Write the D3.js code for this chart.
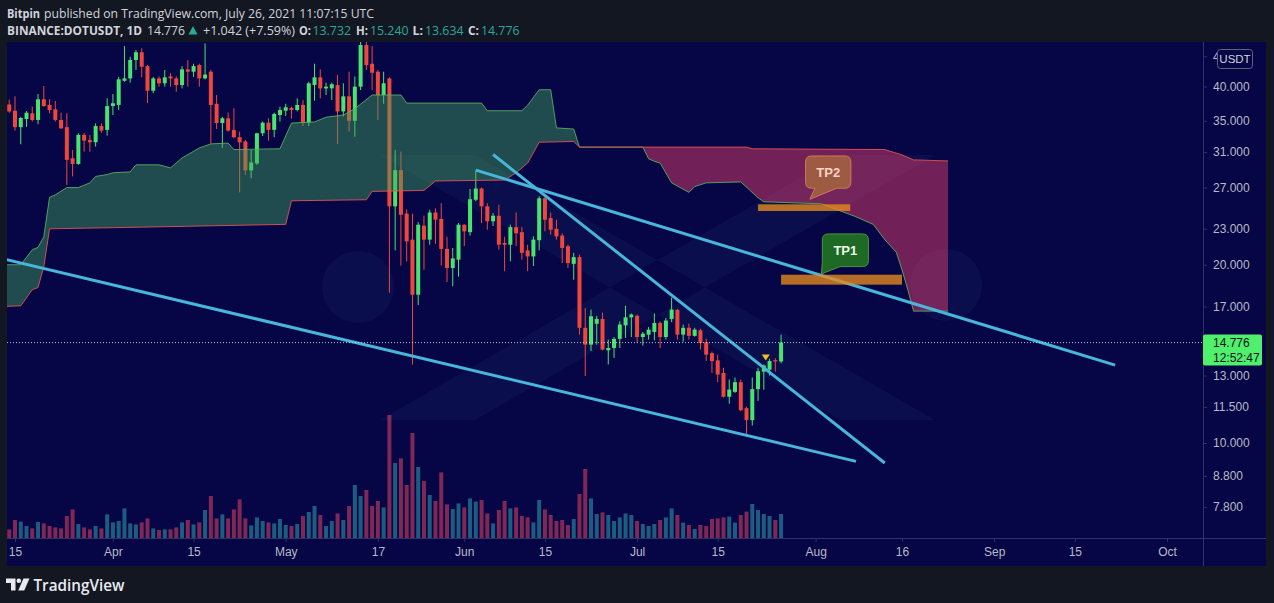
<!DOCTYPE html>
<html><head><meta charset="utf-8">
<script src="https://cdn.jsdelivr.net/npm/d3@7"></script>
<style>
html,body{margin:0;padding:0;background:#131722;}
svg{display:block;}
</style></head><body>
<svg id="c" width="1274" height="603"></svg>
<script>
// ---------------- DATA ----------------
const firstDay = "2021-03-14"; // daily candles, Mar 14 .. Jul 26 2021
const opens = [37.3,36.4,34.15,35.25,36.04,35.12,38.06,37.23,36.6,35.12,34.15,30.26,29.6,33.14,32.5,32.2,34.3,33.79,
37.07,37.23,40.9,41.28,44.34,45.7,43.3,39.35,41.28,40.5,41.6,41.28,40.23,42.76,42.37,43.48,41.28,42.37,37.4,34.7,35.35,33.79,32.84,32.3,28.87,29.66,33.35,34.75,33.79,35.81,
36.41,36.8,36.51,37.23,34.75,40.23,41.45,39.7,39.72,40.23,36.3,38.5,35.0,39.97,47.0,43.7,42.37,38.7,41.28,25.1,28.9,24.4,22.05,17.8,23.28,22.05,24.5,23.9,21.27,19.75,20.4,
23.37,22.7,25.75,26.9,25.1,23.68,24.2,21.76,21.62,23.15,22.7,21.15,20.66,22.0,25.9,23.98,23.0,22.4,21.49,20.07,20.6,15.65,14.66,15.9,16.2,14.34,14.47,14.99,15.8,16.3,
16.4,15.1,15.24,15.4,15.95,15.1,16.2,16.78,15.24,15.65,15.17,15.5,14.8,14.18,13.79,13.13,11.97,12.2,12.67,11.45,10.93,12.33,13.2,13.3,13.8,13.732];
const highs = [38.0,38.5,35.55,36.37,36.98,38.85,40.08,38.06,37.8,36.13,36.04,31.26,33.35,33.4,33.14,34.66,34.66,38.2,
38.85,41.53,46.8,44.9,46.09,46.4,43.48,41.53,41.6,42.65,42.1,41.6,43.3,44.3,43.7,43.7,47.3,42.65,38.7,35.55,36.13,36.75,33.56,32.5,31.26,33.4,34.9,35.35,36.13,36.98,
37.4,36.98,38.2,37.96,40.75,43.7,42.76,40.6,40.6,41.83,40.5,42.37,41.6,48.5,49.5,46.8,42.65,42.37,41.45,31.26,31.05,24.8,24.4,23.6,24.2,24.77,24.9,25.4,22.3,21.35,23.53,
23.4,26.85,28.85,27.0,25.4,24.45,25.25,22.3,23.37,24.5,23.15,21.62,22.33,26.1,26.1,24.5,23.83,22.6,21.62,20.95,20.8,16.9,16.8,16.4,16.6,14.95,15.1,16.05,17.05,16.55,
16.48,15.4,15.7,16.55,16.05,16.25,17.6,16.85,15.85,15.9,15.65,15.6,15.0,14.27,14.1,13.4,12.8,12.9,12.8,11.52,12.9,13.4,13.57,13.88,13.9,15.24];
const lows = [36.1,33.7,31.95,34.2,34.9,34.54,36.98,36.04,34.9,33.9,27.29,28.2,29.5,31.05,31.05,31.66,33.4,33.05,
35.81,36.51,40.75,40.6,42.65,41.45,37.5,38.96,39.97,39.97,39.97,39.2,39.7,39.97,41.53,39.97,41.13,32.05,33.9,31.5,33.56,32.7,26.5,28.37,28.0,29.49,33.0,32.4,32.84,34.9,
35.67,35.3,36.3,34.3,34.3,37.85,38.2,38.7,37.96,32.0,35.6,33.56,32.9,39.46,42.65,39.46,35.12,37.4,17.94,21.15,19.93,20.27,13.57,17.1,19.62,21.62,21.7,19.93,18.7,18.4,19.1,
21.5,22.4,25.6,23.5,22.92,23.25,21.21,19.5,20.27,21.5,20.4,19.5,19.9,21.15,22.77,22.48,22.05,20.13,19.75,18.87,15.24,12.97,14.3,14.66,14.34,13.57,13.92,14.47,15.05,15.1,
14.77,14.6,14.95,14.9,14.47,14.95,16.0,14.95,14.82,14.95,15.12,14.38,13.75,13.13,12.67,11.93,11.65,12.15,11.32,10.3,10.7,11.78,12.3,13.0,13.2,13.634];
const closes = [36.3,34.15,35.4,36.13,35.12,38.06,37.07,36.51,35.12,34.0,30.07,29.6,33.14,32.4,32.2,34.3,33.7,37.07,
37.48,41.13,41.28,44.34,45.7,43.2,39.35,41.28,40.5,41.45,41.28,40.23,42.76,42.37,43.3,41.28,41.9,37.23,34.7,35.35,33.7,32.84,32.2,28.87,29.76,33.35,34.75,33.79,35.95,36.51,
36.9,36.51,37.23,34.75,40.5,41.45,39.7,39.97,40.35,36.3,38.5,35.0,39.97,47.0,43.48,42.2,38.7,40.5,25.1,28.9,24.29,21.9,17.8,23.37,22.05,24.5,23.83,21.27,19.75,20.5,23.37,
22.77,25.8,26.9,25.1,23.68,24.2,21.62,21.62,23.15,22.6,20.95,20.66,22.05,25.9,23.83,22.92,22.33,21.35,20.13,20.6,15.65,14.66,16.37,16.2,14.38,14.47,14.99,15.85,16.3,16.48,
15.1,15.3,15.54,15.95,15.1,16.1,16.8,15.24,15.65,15.17,15.54,14.75,14.1,13.75,13.05,11.97,12.31,12.67,11.36,10.93,12.33,13.22,13.52,13.75,13.734,14.776];
const volumes = [4.8,9.5,8.7,6.5,5.3,8.5,7.8,6.5,5.8,5.3,11.5,14.8,7.5,5.8,4.8,6.5,5.3,12.3,
8.3,9,15.3,7.8,7.3,8.3,10.3,5.3,4.5,4.8,4.8,5.8,8.3,9.5,7.3,8.3,14.5,21.5,10.3,12.3,10.3,14.8,19.8,10.3,6.8,10.8,9,8.3,7.8,10,
7,6.5,7.5,11.5,13.5,16.5,12,6.5,9,12.8,9.5,16.5,27,21.5,24.5,16.5,19,15.8,62,38,40.3,27,53,36,29,22,19,33.3,17.3,15,17.8,
15.8,20.3,18.7,19.5,12.8,7.8,14.5,19,15.3,15.8,11.5,10.8,8.3,19.5,14.8,12,9,9.5,7,10,22.5,35,20.3,12.5,13.3,12,9,10.8,12.8,12,
9,7.5,6.5,7.5,9.5,10.8,15.3,12,8.2,7,5,7,6.5,10,10.3,10.8,11.2,8.2,12,13.7,17.5,14.5,12.5,11.5,9.5,12.5];

// Ichimoku cloud spans (date, price)
const spanA = [["2021-03-13",20.0],["2021-03-16",20.0],["2021-03-18",21.2],["2021-03-19",21.4],["2021-03-20",22.3],["2021-03-21",26.0],
["2021-03-22",26.25],["2021-03-24",27.0],["2021-03-26",27.0],["2021-03-28",27.5],["2021-03-29",28.2],["2021-03-31",28.4],["2021-04-01",28.6],
["2021-04-04",28.7],["2021-04-05",29.5],["2021-04-09",29.5],["2021-04-11",29.15],["2021-04-13",30.3],["2021-04-16",31.5],["2021-04-18",32.0],
["2021-04-21",32.1],["2021-04-22",31.3],["2021-04-30",31.4],["2021-05-02",34.7],["2021-05-06",34.85],["2021-05-08",35.5],["2021-05-11",35.8],
["2021-05-13",36.7],["2021-05-16",38.7],["2021-05-21",38.7],["2021-05-22",37.5],["2021-06-04",37.5],["2021-06-05",36.4],["2021-06-11",36.4],
["2021-06-12",37.2],["2021-06-14",39.5],["2021-06-16",39.5],["2021-06-17",34.05],["2021-06-20",33.9],["2021-06-21",31.6],["2021-07-02",31.6],
["2021-07-03",30.2],["2021-07-04",29.9],["2021-07-05",29.7],["2021-07-07",27.5],["2021-07-10",26.5],["2021-07-11",27.1],["2021-07-13",27.5],
["2021-07-19",27.6],["2021-07-22",25.95],["2021-07-23",25.55],["2021-08-02",25.35],["2021-08-08",24.1],["2021-08-11",23.4],["2021-08-13",22.05],
["2021-08-15",21.0],["2021-08-16",19.6],["2021-08-17",18.15],["2021-08-18",16.7],["2021-08-24",16.7]];
const spanB = [["2021-03-13",17.0],["2021-03-16",17.05],["2021-03-18",18.15],["2021-03-19",18.3],["2021-03-20",19.85],["2021-03-21",23.0],
["2021-04-01",23.1],["2021-05-01",23.4],["2021-05-02",25.65],["2021-05-15",25.75],["2021-05-16",26.6],["2021-05-25",26.7],["2021-05-27",27.7],
["2021-06-08",27.8],["2021-06-10",28.6],["2021-06-12",29.7],["2021-06-14",32.2],["2021-06-20",32.3],["2021-06-21",31.6],["2021-07-20",31.6],
["2021-07-21",31.4],["2021-08-13",31.3],["2021-08-16",30.66],["2021-08-18",30.07],["2021-08-24",29.95]];

const trendLines = [
  {from:"2021-03-13", p1:20.46, to:"2021-08-08", p2:9.31},
  {from:"2021-06-03", p1:28.9,  to:"2021-09-22", p2:13.54},
  {from:"2021-06-06", p1:30.7,  to:"2021-08-13", p2:9.25}
];
const targets = [
  {name:"TP2", from:"2021-07-22", to:"2021-08-07", top:25.3, bottom:24.65},
  {name:"TP1", from:"2021-07-26", to:"2021-08-16", top:19.24, bottom:18.51}
];
const callouts = [
  {label:"TP2", date:"2021-07-31", price:25.8},
  {label:"TP1", date:"2021-08-02", price:19.3}
];
const signals = [{date:"2021-07-23", price:13.94}];

const priceTicks = [45, 40, 35, 31, 27, 23, 20, 17, 13, 11.5, 10, 8.8, 7.8];
const timeTicks = ["2021-03-15","2021-04-01","2021-04-15","2021-05-01","2021-05-17","2021-06-01","2021-06-15",
  "2021-07-01","2021-07-15","2021-08-01","2021-08-16","2021-09-01","2021-09-15","2021-10-01"];
const timeLabels = ["15","Apr","15","May","17","Jun","15","Jul","15","Aug","16","Sep","15","Oct"];
const lastPrice = 14.776, countdown = "12:52:47";

// ---------------- DRAW ----------------
const W = 1274, H = 603;
const plot = {l:7, r:1203, t:42, b:538};
const panel = {l:7, r:1266, t:42, b:566};
const NAVY = "#060545", SEP = "#2e3266", LABEL = "#b8bbc6";
const UP = "#48e46f", DOWN = "#f0473d";
const FONT = "'Liberation Sans', Arial, sans-serif";

const parse = d3.utcParse("%Y-%m-%d");
const x = d3.scaleUtc().domain([parse("2021-03-15"), parse("2021-10-01")]).range([15, 1167]);
const y = d3.scaleLog().domain([10, 40]).range([443, 86.5]);
const v = d3.scaleLinear().domain([0, 100]).range([539, 339]);

const start = parse(firstDay);
const days = d3.utcDay.range(start, d3.utcDay.offset(start, opens.length));
const candles = days.map((d, i) => ({date:d, o:opens[i], h:highs[i], l:lows[i], c:closes[i], vol:volumes[i]}));

const svg = d3.select("#c");
svg.append("rect").attr("width", W).attr("height", H).attr("fill", "#131722");
svg.append("rect").attr("x", panel.l).attr("y", panel.t).attr("width", panel.r - panel.l)
  .attr("height", panel.b - panel.t).attr("fill", NAVY);

const defs = svg.append("defs");
defs.append("clipPath").attr("id", "plotClip").append("rect")
  .attr("x", plot.l).attr("y", plot.t).attr("width", plot.r - plot.l).attr("height", plot.b - plot.t);
// clip for the topmost axis label, which sits under the currency badge (only its first glyph shows)
defs.append("clipPath").attr("id", "topLabelClip").append("rect")
  .attr("x", -2).attr("y", -20).attr("width", 16).attr("height", 40);

const g = svg.append("g").attr("clip-path", "url(#plotClip)");

// watermark (decorative)
const wm = g.append("g").attr("fill", "rgba(70,130,170,0.075)");
wm.append("circle").attr("cx", 358).attr("cy", 287).attr("r", 36);
wm.append("circle").attr("cx", 946).attr("cy", 285).attr("r", 36);
wm.append("path").attr("fill-rule", "evenodd")
  .attr("d", "M380,155 L475,155 L935,420 L840,420 Z M840,155 L935,155 L475,420 L380,420 Z");

// volume
g.append("g").selectAll("rect").data(candles).join("rect")
  .attr("x", d => x(d.date) - 2).attr("width", 4)
  .attr("y", d => v(d.vol)).attr("height", d => v(0) - v(d.vol))
  .attr("fill", d => d.c >= d.o ? "rgba(50,180,190,0.5)" : "rgba(240,70,100,0.52)");

// candles
const cg = g.append("g");
cg.selectAll("line").data(candles).join("line")
  .attr("x1", d => x(d.date)).attr("x2", d => x(d.date))
  .attr("y1", d => y(d.h)).attr("y2", d => y(d.l))
  .attr("stroke", d => d.c >= d.o ? UP : DOWN).attr("stroke-width", 1);
cg.selectAll("rect").data(candles).join("rect")
  .attr("x", d => x(d.date) - 2).attr("width", 4)
  .attr("y", d => y(Math.max(d.o, d.c)))
  .attr("height", d => Math.max(1, Math.abs(y(d.o) - y(d.c))))
  .attr("fill", d => d.c >= d.o ? UP : DOWN);

// ichimoku cloud
const A = spanA.map(([d, p]) => ({date:parse(d), v:p}));
const B = spanB.map(([d, p]) => ({date:parse(d), v:p}));
const above = d3.area().x(d => x(d.date)).y0(0).y1(d => y(d.v));
const below = d3.area().x(d => x(d.date)).y0(H).y1(d => y(d.v));
defs.append("clipPath").attr("id", "belowA").append("path").attr("d", below(A));
defs.append("clipPath").attr("id", "belowB").append("path").attr("d", below(B));
g.append("g").attr("clip-path", "url(#belowA)").append("path").attr("d", above(B))
  .attr("fill", "rgba(67,165,90,0.45)");
g.append("g").attr("clip-path", "url(#belowB)").append("path").attr("d", above(A))
  .attr("fill", "rgba(235,65,110,0.47)");
const ln = d3.line().x(d => x(d.date)).y(d => y(d.v));
g.append("path").attr("d", ln(A)).attr("fill", "none").attr("stroke", "rgba(90,180,95,0.85)").attr("stroke-width", 1);
g.append("path").attr("d", ln(B)).attr("fill", "none").attr("stroke", "rgba(235,85,85,0.85)").attr("stroke-width", 1);

// trend lines
g.append("g").selectAll("line").data(trendLines).join("line")
  .attr("x1", d => x(parse(d.from))).attr("y1", d => y(d.p1))
  .attr("x2", d => x(parse(d.to))).attr("y2", d => y(d.p2))
  .attr("stroke", "#48b6da").attr("stroke-width", 3);

// target zones
g.append("g").selectAll("rect").data(targets).join("rect")
  .attr("x", d => x(parse(d.from))).attr("width", d => x(parse(d.to)) - x(parse(d.from)))
  .attr("y", d => y(d.top)).attr("height", d => y(d.bottom) - y(d.top))
  .attr("fill", "rgba(232,140,30,0.78)");

// callout bubbles
const bubbleStyle = {
  TP2: {l:-4.3, r:41, t:-43.3, b:-11, tx1:5, tx2:26.7, fill:"rgba(175,112,60,0.72)", stroke:"rgba(215,125,85,0.9)", text:"#ffd2c4"},
  TP1: {l:0.9, r:47, t:-40, b:-7.3, tx1:null, tx2:18.6, fill:"#1e6a25", stroke:"#4f8f45", text:"#eefbea"}
};
callouts.forEach(c => {
  const s = bubbleStyle[c.label];
  const ax = x(parse(c.date)), ay = y(c.price);
  const l = ax + s.l, r = ax + s.r, t = ay + s.t, b = ay + s.b, rad = 6;
  let p = `M${l + rad},${t} H${r - rad} Q${r},${t} ${r},${t + rad} V${b - rad} Q${r},${b} ${r - rad},${b} H${ax + s.tx2} L${ax},${ay} `;
  if (s.tx1 === null) p += `L${l},${b - 4} V${t + rad} Q${l},${t} ${l + rad},${t} Z`;
  else p += `L${ax + s.tx1},${b} H${l + rad} Q${l},${b} ${l},${b - rad} V${t + rad} Q${l},${t} ${l + rad},${t} Z`;
  g.append("path").attr("d", p).attr("fill", s.fill).attr("stroke", s.stroke).attr("stroke-width", 1);
  g.append("text").attr("x", (l + r) / 2).attr("y", (t + b) / 2 + 4.5).attr("text-anchor", "middle")
    .attr("font-family", FONT).attr("font-weight", "bold").attr("font-size", 13)
    .attr("fill", s.text).text(c.label);
});

// last price dotted line
g.append("line").attr("x1", plot.l).attr("x2", plot.r).attr("y1", y(lastPrice)).attr("y2", y(lastPrice))
  .attr("stroke", "rgba(205,230,220,0.85)").attr("stroke-width", 1).attr("stroke-dasharray", "1,2");

// signal marker
g.append("g").selectAll("path").data(signals).join("path")
  .attr("transform", d => `translate(${x(parse(d.date)) + 2},${y(d.price)})`)
  .attr("d", "M-4,-3 L4,-3 L0,3 Z").attr("fill", "#f2be1c");

// separators
svg.append("line").attr("x1", plot.r + 0.5).attr("x2", plot.r + 0.5).attr("y1", panel.t).attr("y2", panel.b).attr("stroke", SEP);
svg.append("line").attr("x1", panel.l).attr("x2", panel.r).attr("y1", plot.b + 0.5).attr("y2", plot.b + 0.5).attr("stroke", SEP);

// price axis
const yAxis = d3.axisRight(y).tickValues(priceTicks).tickFormat(d3.format(".3f")).tickSize(4).tickPadding(6);
const ya = svg.append("g").attr("transform", `translate(${plot.r},0)`).call(yAxis);
ya.select(".domain").remove();
ya.selectAll("line").attr("stroke", SEP);
ya.selectAll("text").attr("fill", LABEL).attr("font-family", FONT).attr("font-size", 12);
ya.selectAll(".tick").filter(d => d === 45).select("text").attr("clip-path", "url(#topLabelClip)");

// time axis
const xAxis = d3.axisBottom(x).tickValues(timeTicks.map(parse)).tickFormat((d, i) => timeLabels[i]).tickSize(4).tickPadding(5);
const xa = svg.append("g").attr("transform", `translate(0,${plot.b})`).call(xAxis);
xa.select(".domain").remove();
xa.selectAll("line").attr("stroke", SEP);
xa.selectAll("text").attr("fill", LABEL).attr("font-family", FONT).attr("font-size", 12);

// USDT label
svg.append("rect").attr("x", 1217.5).attr("y", 49.5).attr("width", 35).attr("height", 19).attr("rx", 3)
  .attr("fill", NAVY).attr("stroke", "#5f6384");
svg.append("text").attr("x", 1235).attr("y", 63).attr("text-anchor", "middle").attr("font-family", FONT)
  .attr("font-size", 11.5).attr("fill", "#d1d4dc").text("USDT");

// last price label
const ly = y(lastPrice);
svg.append("rect").attr("x", plot.r).attr("y", ly - 8).attr("width", 59).attr("height", 31).attr("rx", 2).attr("fill", "#4ef06c");
svg.append("text").attr("x", 1213).attr("y", ly + 4.5).attr("font-family", FONT).attr("font-size", 12).attr("fill", "#0c0f1a").text(d3.format(".3f")(lastPrice));
svg.append("text").attr("x", 1213).attr("y", ly + 19).attr("font-family", FONT).attr("font-size", 12).attr("fill", "#0c0f1a").text(countdown);

// header
function txt(xp, yp, s, len, opt = {}) {
  const t = svg.append("text").attr("x", xp).attr("y", yp).attr("font-family", "'Open Sans', 'Noto Sans', sans-serif")
    .attr("font-size", 12.5).attr("fill", opt.fill || "#d1d4dc").attr("font-weight", opt.bold ? "bold" : "normal").text(s);
  if (len) t.attr("textLength", len).attr("lengthAdjust", "spacingAndGlyphs");
  return t;
}
const TEAL = "#2aa89a";
txt(7, 18, "Bitpin", 33, {bold:true});
txt(44, 18, "published on TradingView.com, July 26, 2021 11:07:15 UTC", 330);
txt(7, 35, "BINANCE:DOTUSDT, 1D", 135, {bold:true});
txt(147, 35, "14.776", 38);
svg.append("path").attr("d", "M188.5,34.5 L197.5,34.5 L193,26 Z").attr("fill", TEAL);
txt(203, 35, "+1.042 (+7.59%)", 92);
txt(299, 35, "O:", 12, {bold:true}); txt(312.5, 35, "13.732", 38.5, {fill:TEAL});
txt(356, 35, "H:", 12, {bold:true}); txt(370, 35, "15.240", 38.5, {fill:TEAL});
txt(412.5, 35, "L:", 10.5, {bold:true}); txt(425, 35, "13.634", 38.5, {fill:TEAL});
txt(468, 35, "C:", 11, {bold:true}); txt(481, 35, "14.776", 38.5, {fill:TEAL});

// TradingView footer logo
const logo = svg.append("g").attr("fill", "#e8eaf0");
logo.append("path").attr("d", "M6,578.5 H15.5 V590.5 H11 V583 H6 Z");
logo.append("circle").attr("cx", 18.8).attr("cy", 580.8).attr("r", 2.3);
logo.append("path").attr("d", "M23.5,578.5 H29.5 L24.2,590.5 H18.2 Z");
svg.append("text").attr("x", 33.5).attr("y", 590.5).attr("font-family", "'Open Sans', 'Noto Sans', sans-serif")
  .attr("font-size", 16.5).attr("font-weight", 600).attr("fill", "#e8eaf0")
  .attr("textLength", 91).attr("lengthAdjust", "spacingAndGlyphs").text("TradingView");
</script></body></html>
